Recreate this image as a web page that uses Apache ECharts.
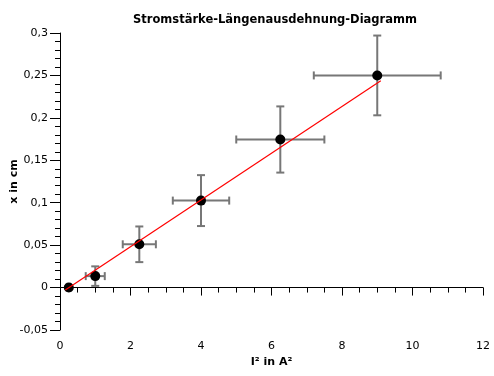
<!DOCTYPE html>
<html>
<head>
<meta charset="utf-8">
<script src="https://cdn.jsdelivr.net/npm/echarts@6/dist/echarts.min.js"></script>
<style>
  html, body { margin: 0; padding: 0; background: #fff; }
  #chart { width: 494px; height: 376px; }
</style>
</head>
<body>
<div id="chart"></div>
<script>
// I^2 in A^2 and x in cm
var iSquared = [0.25, 1, 2.25, 4, 6.25, 9];
var xCm = [0, 0.0135, 0.051, 0.1025, 0.1745, 0.25];
var errI = [0.06, 0.27, 0.47, 0.8, 1.25, 1.8];
var errX = [0.002, 0.0115, 0.021, 0.03, 0.039, 0.047];
// fit line end points
var fitX = [0.15, 9.1];
var fitY = [-0.003, 0.2437];

var pts = [], bars = [], fit = [];
for (var i = 0; i < iSquared.length; i++) {
  pts.push([iSquared[i], xCm[i]]);
  bars.push([iSquared[i], xCm[i], errI[i], errX[i]]);
}
for (var j = 0; j < fitX.length; j++) fit.push([fitX[j], fitY[j]]);

function comma(v) {
  return String(Math.round(v * 1000) / 1000).replace('.', ',');
}

var font = 'DejaVu Sans';
var chart = echarts.init(document.getElementById('chart'));
chart.setOption({
  animation: false,
  title: {
    text: 'Stromstärke-Längenausdehnung-Diagramm',
    left: 270, top: 9, textAlign: 'center',
    textStyle: { fontFamily: font, fontSize: 11.5, fontWeight: 'bold', color: '#000' }
  },
  grid: { left: 60, right: 11, top: 33, bottom: 46, outerBoundsMode: 'none' },
  xAxis: {
    type: 'value', min: 0, max: 12, interval: 2,
    name: 'I² in A²', nameLocation: 'middle', nameGap: 22,
    nameTextStyle: { fontFamily: font, fontSize: 11, fontWeight: 'bold', color: '#000' },
    axisLine: { lineStyle: { color: '#000', width: 1 } },
    axisTick: { length: 8, lineStyle: { color: '#000' } },
    minorTick: { show: true, splitNumber: 4, length: 5, lineStyle: { color: '#000' } },
    splitLine: { show: false },
    axisLabel: { fontFamily: font, fontSize: 11, color: '#000', margin: 11 }
  },
  yAxis: {
    type: 'value', min: -0.05, max: 0.3, interval: 0.05,
    name: 'x in cm', nameLocation: 'middle', nameGap: 40, nameMoveOverlap: false,
    nameTextStyle: { fontFamily: font, fontSize: 11, fontWeight: 'bold', color: '#000' },
    axisLine: { show: true, lineStyle: { color: '#000', width: 1 } },
    axisTick: { show: true, length: 10, lineStyle: { color: '#000' } },
    minorTick: { show: true, splitNumber: 5, length: 5, lineStyle: { color: '#000' } },
    splitLine: { show: false },
    axisLabel: { fontFamily: font, fontSize: 11, color: '#000', margin: 12, formatter: comma }
  },
  series: [
    {
      type: 'custom',
      data: bars,
      z: 2,
      renderItem: function (params, api) {
        var x = api.value(0), y = api.value(1), ex = api.value(2), ey = api.value(3);
        var l = api.coord([x - ex, y]), r = api.coord([x + ex, y]);
        var t = api.coord([x, y + ey]), b = api.coord([x, y - ey]);
        var c = 4;
        var st = { stroke: '#777', lineWidth: 2, fill: null };
        return {
          type: 'group',
          children: [
            { type: 'line', shape: { x1: l[0], y1: l[1], x2: r[0], y2: r[1] }, style: st },
            { type: 'line', shape: { x1: l[0], y1: l[1] - c, x2: l[0], y2: l[1] + c }, style: st },
            { type: 'line', shape: { x1: r[0], y1: r[1] - c, x2: r[0], y2: r[1] + c }, style: st },
            { type: 'line', shape: { x1: t[0], y1: t[1], x2: b[0], y2: b[1] }, style: st },
            { type: 'line', shape: { x1: t[0] - c, y1: t[1], x2: t[0] + c, y2: t[1] }, style: st },
            { type: 'line', shape: { x1: b[0] - c, y1: b[1], x2: b[0] + c, y2: b[1] }, style: st }
          ]
        };
      }
    },
    {
      type: 'scatter',
      data: pts,
      symbol: 'circle', symbolSize: 10,
      itemStyle: { color: '#000', opacity: 1 },
      z: 3
    },
    {
      type: 'line',
      data: fit,
      symbol: 'none',
      lineStyle: { color: '#ff0000', width: 1.2 },
      z: 4
    }
  ]
});
</script>
</body>
</html>
